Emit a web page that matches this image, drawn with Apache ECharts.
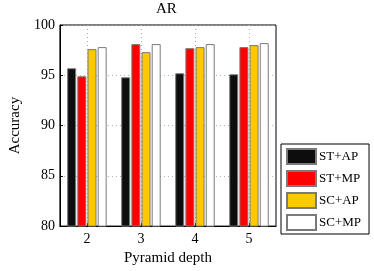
<!DOCTYPE html>
<html>
<head>
<meta charset="utf-8">
<script src="https://cdn.jsdelivr.net/npm/echarts@6/dist/echarts.min.js"></script>
<style>html,body{margin:0;padding:0;background:#fff}#c{width:374px;height:271px}</style>
</head>
<body>
<div id="c"></div>
<script>
const categories = ['2', '3', '4', '5'];
const stAP = [95.7, 94.8, 95.2, 95.1];
const stMP = [94.9, 98.1, 97.7, 97.8];
const scAP = [97.6, 97.3, 97.8, 98.0];
const scMP = [97.8, 98.1, 98.1, 98.2];
const seriesNames = ['ST+AP', 'ST+MP', 'SC+AP', 'SC+MP'];
const seriesColors = ['#0d0d0d', '#ff0000', '#ffc800', '#ffffff'];
const seriesData = [stAP, stMP, scAP, scMP];

const font = 'Liberation Serif';
const chart = echarts.init(document.getElementById('c'), null, {renderer: 'canvas'});
const series = seriesData.map((d, i) => ({
  name: seriesNames[i],
  type: 'bar',
  data: d,
  barWidth: 9,
  barGap: '13%',
  z: 3,
  itemStyle: {color: seriesColors[i], borderColor: '#7a7a7a', borderWidth: 1},
  emphasis: {disabled: true}
}));
chart.setOption({
  animation: false,
  textStyle: {fontFamily: font, color: '#000'},
  title: {
    text: 'AR', left: 156, top: 2, padding: 0,
    textStyle: {fontFamily: font, fontSize: 15, fontWeight: 'normal', color: '#000'}
  },
  grid: {left: 50, right: 98, top: 25, bottom: 37, show: true, borderColor: '#000', borderWidth: 1, backgroundColor: 'transparent'},
  legend: {
    orient: 'vertical', left: 281, top: 144,
    itemWidth: 29, itemHeight: 15, itemGap: 5,
    padding: [4, 8, 3, 5],
    borderColor: '#000', borderWidth: 1, backgroundColor: '#fff',
    icon: 'rect',
    textStyle: {fontFamily: font, fontSize: 13, color: '#000', padding: [0, 0, 0, -2]},
    data: seriesNames
  },
  xAxis: {
    type: 'category', data: categories,
    name: 'Pyramid depth', nameLocation: 'middle', nameGap: 19,
    nameTextStyle: {fontFamily: font, fontSize: 15, color: '#000'},
    axisLine: {show: true, lineStyle: {color: '#000'}},
    axisTick: {show: true, inside: true, length: 3, alignWithLabel: true, lineStyle: {color: '#000'}},
    axisLabel: {fontFamily: font, fontSize: 14, color: '#000', margin: 6},
    splitLine: {show: true, alignWithLabel: true, lineStyle: {color: '#aaa', type: [1, 3]}}
  },
  yAxis: {
    type: 'value', min: 80, max: 100, interval: 5,
    name: 'Accuracy', nameLocation: 'middle', nameGap: 33,
    nameTextStyle: {fontFamily: font, fontSize: 15, color: '#000'},
    axisLine: {show: true, lineStyle: {color: '#000'}},
    axisTick: {show: true, inside: true, length: 3, lineStyle: {color: '#000'}},
    axisLabel: {fontFamily: font, fontSize: 14, color: '#000', margin: 5},
    splitLine: {show: true, lineStyle: {color: '#aaa', type: [1, 3]}}
  },
  series: series
});
</script>
</body>
</html>
